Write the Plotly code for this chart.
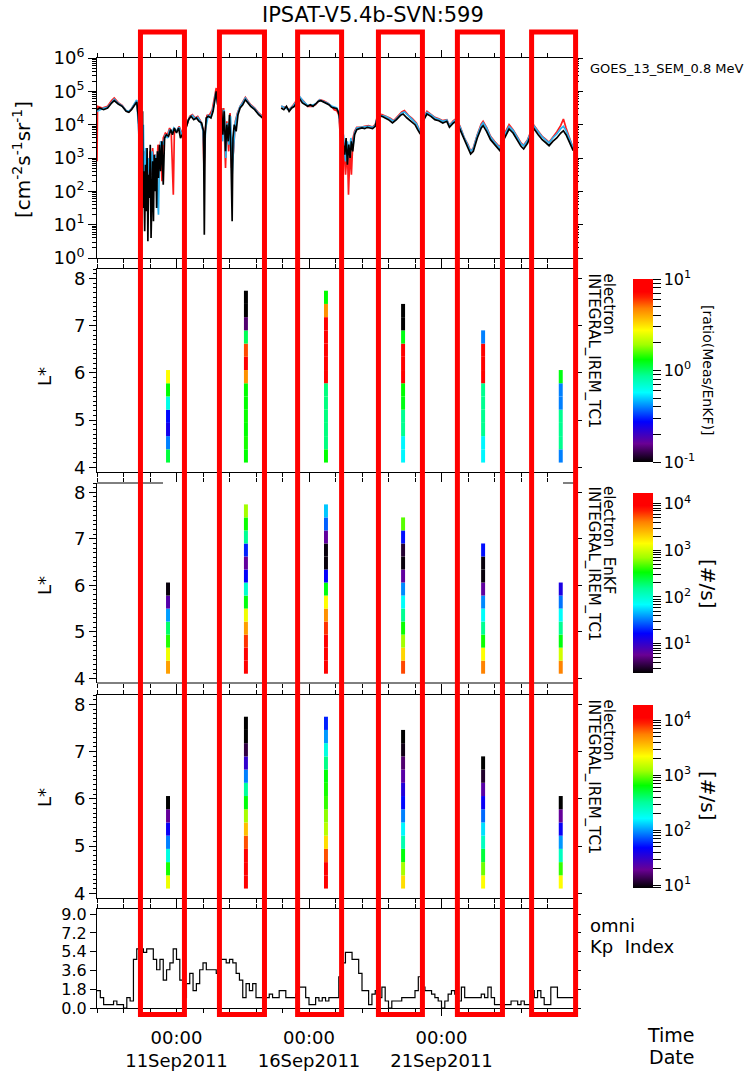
import numpy as np
import pandas as pd
import plotly.graph_objects as go

# ---------------- DATA ----------------
T0 = pd.Timestamp("2011-09-08 00:00")
SPAN_DAYS = 18

# GOES 0.8 MeV flux (days since 2011-09-08, log10 flux); None = data gap
black_days = [0.00,0.10,0.25,0.40,0.55,0.65,0.80,0.95,1.10,1.20,1.30,1.42,1.50,1.55,1.60,1.65,1.68,1.70,1.72,1.74,
              1.77,1.80,1.83,1.86,1.89,1.92,1.95,1.98,2.01,2.04,2.07,2.10,2.13,2.16,2.19,2.22,2.25,2.28,2.32,2.36,
              2.40,2.45,2.50,2.55,2.62,2.70,2.78,2.85,2.92,3.00,3.08,3.15,3.22,3.30,3.38,3.45,3.55,3.65,3.75,3.85,
              3.95,4.02,4.05,4.08,4.12,4.20,4.30,4.38,4.45,4.50,4.55,4.60,4.65,4.70,4.75,4.80,4.85,4.90,4.95,5.00,
              5.05,5.10,5.13,5.18,5.25,5.32,5.40,5.50,5.60,5.70,5.80,5.95,6.10,6.25,6.33,6.60,
              6.95,7.05,7.15,7.25,7.35,7.45,7.55,7.65,7.75,7.85,7.95,8.05,8.15,8.25,8.35,8.45,8.55,8.65,8.75,8.85,
              8.95,9.05,9.12,9.20,9.25,9.30,9.35,9.40,9.45,9.50,9.55,9.60,9.65,9.72,9.80,9.90,10.00,10.10,10.20,10.30,
              10.40,10.50,10.60,10.75,10.90,11.00,11.15,11.30,11.45,11.55,11.70,11.85,12.00,12.10,12.20,12.30,12.45,12.60,12.75,12.90,
              13.05,13.20,13.30,13.45,13.55,13.70,13.85,14.00,14.10,14.20,14.35,14.50,14.57,14.70,14.85,15.00,15.20,15.35,15.55,15.70,
              15.85,16.00,16.10,16.25,16.40,16.50,16.65,16.80,16.95,17.06,17.20,17.35,17.50,17.60,17.70,17.85,17.97]
black_log = [4.45,4.50,4.45,4.50,4.65,4.72,4.62,4.55,4.40,4.37,4.45,4.60,4.68,4.30,3.80,2.90,1.20,2.70,4.40,1.50,
             2.60,0.80,2.80,1.40,3.30,0.50,2.50,1.80,3.40,0.60,2.20,2.90,1.10,3.10,2.00,3.00,1.50,3.20,2.40,3.40,
             2.60,3.50,2.20,3.60,3.70,3.65,3.85,3.70,3.90,3.75,3.90,3.60,3.70,3.85,3.95,4.15,4.25,4.15,4.20,4.10,
             4.05,3.80,0.70,3.70,4.20,4.25,4.20,4.40,4.85,5.00,4.60,4.85,4.30,4.50,3.70,4.40,3.20,4.00,3.50,4.30,
             3.30,1.10,3.60,4.00,3.80,4.30,4.50,4.60,4.75,4.65,4.55,4.45,4.30,4.20,4.15,None,
             4.50,4.45,4.55,4.40,4.50,4.55,4.70,4.77,4.65,4.60,4.55,4.60,4.55,4.62,4.70,4.72,4.68,4.62,4.60,4.52,
             4.50,4.48,4.35,4.00,3.80,3.40,3.10,3.60,2.80,3.40,3.00,3.50,3.20,3.70,3.85,3.88,3.90,3.88,3.92,3.90,
             3.88,3.95,4.27,4.25,4.20,4.15,4.05,4.15,4.28,4.32,4.20,4.10,4.00,3.85,3.72,4.10,4.32,4.25,4.15,4.12,
             4.05,4.10,3.92,4.05,4.10,3.85,3.55,3.30,3.12,3.20,3.60,3.90,3.97,3.80,3.55,3.40,3.22,3.55,3.87,3.75,
             3.55,3.35,3.27,3.45,3.75,3.87,3.70,3.55,3.45,3.37,3.50,3.60,3.75,3.82,3.70,3.45,3.22]

red_days = [0.00,0.02,0.20,0.40,0.55,0.65,0.80,0.95,1.10,1.20,1.30,1.42,1.50,1.56,1.62,1.66,1.70,1.75,1.80,1.85,
            1.90,1.95,2.00,2.05,2.10,2.15,2.20,2.25,2.30,2.35,2.40,2.45,2.50,2.58,2.66,2.74,2.80,2.85,2.88,2.92,
            3.00,3.10,3.20,3.30,3.40,3.50,3.60,3.70,3.80,3.90,4.00,4.04,4.08,4.15,4.25,4.35,4.45,4.50,4.55,4.60,
            4.66,4.72,4.78,4.85,4.90,4.97,5.02,5.08,5.15,5.22,5.30,5.40,5.50,5.60,5.70,5.80,5.95,6.10,6.25,6.33,6.60,
            6.95,7.10,7.25,7.40,7.55,7.65,7.80,7.95,8.10,8.25,8.40,8.55,8.70,8.85,8.95,9.05,9.12,9.20,9.25,9.30,
            9.38,9.45,9.49,9.55,9.60,9.66,9.72,9.80,9.95,10.10,10.25,10.40,10.50,10.60,10.75,10.90,11.05,11.20,11.35,11.50,
            11.60,11.75,11.90,12.05,12.20,12.30,12.45,12.60,12.75,12.90,13.05,13.20,13.30,13.45,13.55,13.70,13.85,14.00,14.10,14.20,
            14.35,14.50,14.57,14.70,14.85,15.00,15.20,15.35,15.55,15.70,15.85,16.00,16.10,16.25,16.40,16.50,16.65,16.80,16.95,17.06,
            17.20,17.35,17.50,17.60,17.70,17.85,17.97]
red_log = [2.90,4.55,4.50,4.55,4.72,4.80,4.66,4.58,4.42,4.38,4.48,4.62,4.72,4.20,3.20,2.10,3.10,1.80,3.20,2.20,
           3.00,1.90,3.20,2.50,3.30,2.70,3.10,2.40,3.40,2.80,3.50,2.30,3.60,3.75,3.70,3.90,3.80,2.60,1.90,3.80,
           3.80,3.95,3.75,3.90,4.00,4.25,4.30,4.20,4.25,4.12,3.85,2.60,3.80,4.28,4.30,4.45,4.95,5.10,4.75,4.95,
           4.40,3.90,4.50,2.70,4.10,3.20,4.35,2.70,3.20,4.10,4.35,4.55,4.68,4.82,4.70,4.60,4.50,4.35,4.25,4.20,None,
           4.55,4.52,4.45,4.58,4.75,4.82,4.70,4.55,4.55,4.60,4.75,4.72,4.65,4.55,4.45,4.42,4.30,3.60,3.00,3.50,
           2.50,3.30,1.90,3.30,2.50,3.60,3.80,3.92,3.92,3.95,3.97,3.93,4.00,4.32,4.30,4.25,4.20,4.12,4.25,4.38,
           4.42,4.28,4.18,4.05,3.78,4.18,4.40,4.32,4.22,4.18,4.12,4.15,3.98,4.12,4.18,3.95,3.62,3.40,3.20,3.30,
           3.70,4.02,4.10,3.92,3.65,3.50,3.32,3.68,4.00,3.85,3.65,3.45,3.38,3.55,3.85,3.97,3.80,3.65,3.55,3.47,
           3.62,3.78,3.98,4.17,3.90,3.55,3.28]

blue_days = [0.00,0.20,0.40,0.55,0.65,0.80,0.95,1.10,1.20,1.30,1.42,1.50,1.56,1.62,1.68,1.72,1.75,1.78,1.84,1.90,
             1.96,2.02,2.08,2.14,2.20,2.26,2.32,2.36,2.42,2.50,2.58,2.66,2.74,2.82,2.90,3.00,3.10,3.20,3.30,3.40,
             3.50,3.60,3.70,3.80,3.90,4.00,4.05,4.10,4.20,4.30,4.40,4.48,4.55,4.62,4.68,4.74,4.80,4.86,4.92,4.98,
             5.04,5.10,5.16,5.22,5.30,5.40,5.50,5.60,5.70,5.80,5.95,6.10,6.25,6.33,6.60,
             6.95,7.10,7.25,7.40,7.55,7.65,7.80,7.95,8.10,8.25,8.40,8.55,8.70,8.85,8.95,9.05,9.12,9.20,9.25,9.30,
             9.38,9.45,9.52,9.58,9.65,9.72,9.80,9.95,10.10,10.25,10.40,10.50,10.60,10.75,10.90,11.05,11.20,11.35,11.50,11.60,
             11.75,11.90,12.05,12.20,12.30,12.45,12.60,12.75,12.90,13.05,13.20,13.30,13.45,13.55,13.70,13.85,14.00,14.10,14.20,14.35,
             14.50,14.57,14.70,14.85,15.00,15.20,15.35,15.55,15.70,15.85,16.00,16.10,16.25,16.40,16.50,16.65,16.80,16.95,17.06,17.20,
             17.35,17.50,17.60,17.70,17.85,17.97]
blue_log = [4.40,4.48,4.52,4.68,4.76,4.64,4.56,4.42,4.40,4.47,4.64,4.74,4.00,2.80,2.10,3.10,4.00,2.00,3.30,2.30,
            3.00,2.40,3.20,2.60,3.10,2.20,1.30,3.20,3.50,3.40,3.70,3.60,3.85,3.75,3.90,3.80,3.92,3.70,3.88,4.05,
            4.22,4.28,4.18,4.22,4.10,3.82,3.00,3.90,4.28,4.25,4.55,4.95,4.65,4.80,4.20,3.50,4.45,3.00,4.05,3.40,
            4.25,2.50,3.40,4.05,4.32,4.55,4.66,4.80,4.68,4.58,4.48,4.33,4.22,4.18,None,
            4.56,4.50,4.45,4.56,4.74,4.84,4.68,4.58,4.58,4.62,4.74,4.70,4.64,4.56,4.52,4.50,4.38,3.80,3.30,3.70,
            2.90,3.50,3.10,3.60,3.30,3.75,3.90,3.92,3.93,3.95,3.92,3.98,4.30,4.28,4.24,4.18,4.10,4.22,4.35,4.38,
            4.25,4.15,4.03,3.77,4.15,4.37,4.30,4.20,4.16,4.10,4.14,3.97,4.10,4.16,3.93,3.62,3.38,3.20,3.28,3.68,
            3.98,4.06,3.90,3.63,3.48,3.30,3.64,3.95,3.83,3.63,3.43,3.36,3.53,3.83,3.95,3.79,3.63,3.53,3.45,3.60,
            3.72,3.88,3.95,3.82,3.52,3.30]

# L* bins of the spectrogram columns
L_min = 4.10
dL = 0.28
col_days = [2.68, 5.62, 8.64, 11.55, 14.57, 17.50]

# log10 ratio(Meas/EnKF), bins bottom -> top
ratio_cols = [
    [0.05, -0.40, -0.60, -0.55, -0.20, 0.12, 0.44],
    [0.12, 0.14, 0.12, 0.13, 0.12, 0.12, 0.65, 0.90, 0.75, 0.02, -0.85, -1.00, -1.00],
    [0.12, -0.03, -0.03, -0.03, -0.03, -0.03, 0.90, 0.90, 0.90, 0.90, 0.90, 0.65, 0.12],
    [-0.25, -0.25, -0.05, -0.05, 0.10, 0.12, 0.90, 0.90, 0.90, 0.10, -1.00, -1.00],
    [-0.25, -0.25, -0.05, -0.05, -0.05, -0.05, 0.90, 0.90, 0.90, -0.40],
    [-0.40, -0.05, -0.05, -0.05, -0.40, -0.40, 0.10],
]
# log10 EnKF count rate [#/s]
enkf_cols = [
    [3.50, 3.10, 2.60, 2.30, 1.60, 0.85, 0.40],
    [4.10, 4.10, 3.80, 3.50, 3.10, 2.50, 2.00, 1.20, 0.80, 1.30, 2.20, 2.55, 2.85],
    [4.10, 4.10, 4.10, 3.80, 3.55, 3.15, 2.50, 1.20, 0.40, 0.40, 0.80, 1.45, 1.70],
    [3.75, 3.30, 2.85, 2.55, 2.20, 1.85, 1.55, 0.80, 0.40, 0.50, 1.25, 2.70],
    [3.60, 3.15, 2.55, 2.20, 1.85, 1.55, 0.80, 0.40, 0.40, 1.25],
    [3.60, 3.00, 2.50, 2.20, 1.85, 1.50, 1.10],
]
# log10 measured count rate [#/s]
meas_cols = [
    [3.30, 2.85, 2.30, 1.95, 1.65, 1.30, 0.95],
    [4.10, 4.10, 4.10, 3.85, 3.55, 3.10, 2.80, 2.50, 1.95, 1.50, 1.10, 0.95, 0.95],
    [4.10, 4.10, 3.85, 3.45, 3.15, 3.05, 2.90, 2.85, 2.80, 2.55, 2.30, 2.00, 1.75],
    [3.45, 3.10, 2.80, 2.45, 2.20, 1.95, 1.70, 1.55, 1.35, 1.20, 1.00, 0.95],
    [3.35, 3.00, 2.70, 2.40, 2.15, 1.90, 1.65, 1.35, 1.05, 0.95],
    [3.35, 2.90, 2.40, 2.00, 1.65, 1.30, 0.95],
]

# omni Kp, 3-hourly from 2011-09-08 00:00
kp = [1.67,1.0,0.33,0.33,0.33,0.67,0.33,0.33,
      0.0,1.0,0.67,4.67,5.67,5.67,5.33,5.67,
      5.67,4.67,3.67,4.67,2.67,3.67,4.33,5.67,
      4.67,2.67,1.0,2.33,3.33,1.67,2.33,3.67,
      4.33,3.67,3.67,3.67,3.33,4.67,4.67,4.33,
      4.67,4.33,3.33,2.67,1.0,2.33,1.67,2.33,
      1.0,1.0,1.0,1.0,1.33,1.0,1.0,1.67,
      1.67,1.0,1.0,1.0,1.33,2.0,2.0,1.0,
      0.33,0.33,1.0,0.67,1.0,0.67,1.0,1.0,
      1.0,3.0,4.33,5.33,5.33,4.67,4.67,3.33,
      1.67,1.67,0.33,1.33,1.67,1.0,2.0,0.67,
      0.0,0.67,0.67,0.67,1.0,1.0,1.0,1.0,
      1.67,3.0,2.0,1.67,1.67,1.33,1.0,0.67,
      0.0,0.67,1.33,1.67,1.33,0.67,2.0,1.0,
      1.0,1.0,1.0,1.0,1.33,1.0,2.0,1.0,
      0.33,0.33,0.0,0.33,0.33,0.67,0.67,0.33,
      0.67,0.33,0.33,1.67,1.0,1.67,1.0,0.33,
      0.33,2.0,2.0,1.0,1.0,1.0,1.0,1.0]

# highlighted intervals (days since 2011-09-08)
box_start = [1.64, 4.62, 7.57, 10.62, 13.60, 16.40]
box_end = [3.30, 6.32, 9.23, 12.28, 15.30, 18.06]

# ---------------- HELPERS ----------------
def to_dates(days):
    return [T0 + pd.Timedelta(days=d) for d in days]

def to_flux(logs):
    return [None if v is None else 10 ** v for v in logs]

W, H = 752, 1071
PL, PR, PT, PB = 97, 574, 58, 1008
def px(x):
    return (x - PL) / (PR - PL)
def py(y):
    return (PB - y) / (PB - PT)

FONT = "DejaVu Sans"
CS = [[0.0, "#000000"], [0.10, "#6a0094"], [0.22, "#0000ff"], [0.30, "#0080ff"],
      [0.38, "#00ffff"], [0.47, "#00ff99"], [0.56, "#00ff00"], [0.64, "#a0ff00"],
      [0.72, "#ffff00"], [0.84, "#ff8000"], [0.90, "#ff2000"], [0.93, "#ff0000"], [1.0, "#ff0000"]]

dom = {
    1: [py(258), py(58)],
    2: [py(472), py(269)],
    3: [py(683), py(483)],
    4: [py(898), py(695)],
    5: [py(1008), py(909)],
}

fig = go.Figure()

# top panel lines
fig.add_trace(go.Scatter(x=to_dates(red_days), y=to_flux(red_log), mode="lines",
                         line=dict(color="#ff1a1a", width=1.7), xaxis="x", yaxis="y"))
fig.add_trace(go.Scatter(x=to_dates(blue_days), y=to_flux(blue_log), mode="lines",
                         line=dict(color="#2cb2f0", width=1.7), xaxis="x", yaxis="y"))
fig.add_trace(go.Scatter(x=to_dates(black_days), y=to_flux(black_log), mode="lines",
                         line=dict(color="black", width=1.7), xaxis="x", yaxis="y"))

# spectrogram columns
def add_cols(cols, ax, caxis):
    xs, bases, hs, cs = [], [], [], []
    for d, vals in zip(col_days, cols):
        for k, v in enumerate(vals):
            xs.append(T0 + pd.Timedelta(days=d))
            bases.append(L_min + k * dL)
            hs.append(dL)
            cs.append(v)
    fig.add_trace(go.Bar(x=xs, y=hs, base=bases, width=0.15 * 86400000,
                         marker=dict(color=cs, coloraxis=caxis, line=dict(width=0)),
                         xaxis="x" + ax, yaxis="y" + ax))

add_cols(ratio_cols, "2", "coloraxis")
add_cols(enkf_cols, "3", "coloraxis2")
add_cols(meas_cols, "4", "coloraxis3")

# Kp
kp_days = [k / 8 for k in range(len(kp) + 1)]
fig.add_trace(go.Scatter(x=to_dates(kp_days), y=kp + [kp[-1]], mode="lines", line_shape="hv",
                         line=dict(color="black", width=1.2), xaxis="x5", yaxis="y5"))

# ---------------- AXES ----------------
xr = [T0, T0 + pd.Timedelta(days=SPAN_DAYS)]
major = [pd.Timestamp("2011-09-11"), pd.Timestamp("2011-09-16"), pd.Timestamp("2011-09-21")]
major_txt = ["00:00<br>" + d.strftime("%d%b%Y") for d in major]

def xax(anchor, labels=False, mirror="ticks", showline=True):
    return dict(type="date", range=xr, anchor=anchor, matches=None if anchor == "y" else "x",
                automargin=False,
                showline=showline, linecolor="black", linewidth=1, mirror=mirror,
                ticks="outside", ticklen=7, tickcolor="black", tickwidth=1,
                tickmode="array", tickvals=major, ticktext=major_txt, ticklabelstandoff=6,
                showticklabels=labels, showgrid=False, zeroline=False,
                tickfont=dict(family=FONT, size=18, color="black"),
                minor=dict(tickmode="linear", tick0=T0, dtick=86400000, ticks="outside",
                           ticklen=4, tickcolor="black", showgrid=False))

def lin_minor(lo, hi, step):
    return list(np.round(np.arange(lo, hi + 1e-9, step), 3))

log_minor = [k * 10.0 ** n for n in range(0, 6) for k in range(2, 10)]

def lstar(dom_):
    return dict(domain=dom_, range=[3.9, 8.2], automargin=False,
                showline=True, linecolor="black", linewidth=1,
                mirror="ticks", ticks="outside", ticklen=7, tickcolor="black",
                tickvals=[4, 5, 6, 7, 8], showgrid=False, zeroline=False,
                tickfont=dict(family=FONT, size=18, color="black"),
                minor=dict(tickmode="array", tickvals=lin_minor(4.0, 8.2, 0.1),
                           ticks="outside", ticklen=3, tickcolor="black", showgrid=False))

def cbar(dom_, vals, texts):
    return dict(x=px(623), xanchor="left", thickness=20, thicknessmode="pixels",
                len=dom_[1] - dom_[0], lenmode="fraction", y=(dom_[0] + dom_[1]) / 2,
                yanchor="middle", outlinewidth=0, ticks="outside", ticklen=8,
                tickcolor="black", tickvals=vals, ticktext=texts,
                tickfont=dict(family=FONT, size=16, color="black"))

def cb_ticks(lo, hi):
    vals, txt = [], []
    for n in range(int(np.floor(lo)), int(np.ceil(hi)) + 1):
        for k in range(1, 10):
            v = n + np.log10(k)
            if lo - 1e-6 <= v <= hi + 1e-6:
                vals.append(v)
                txt.append("10<sup>%d</sup>" % n if k == 1 else "")
    return vals, txt

v2, t2 = cb_ticks(-1, 1)
v3, t3 = cb_ticks(0.37, 4.23)
v4, t4 = cb_ticks(0.95, 4.28)

layout = dict(
    width=W, height=H, margin=dict(l=PL, r=W - PR, t=PT, b=H - PB, autoexpand=False),
    paper_bgcolor="white", plot_bgcolor="white", showlegend=False, barmode="overlay",
    font=dict(family=FONT, size=18, color="black"),
    xaxis=xax("y"), xaxis2=xax("y2"), xaxis3=xax("y3", showline=False), xaxis4=xax("y4"),
    xaxis5=xax("y5", labels=True),
    yaxis=dict(domain=dom[1], type="log", range=[0, 6], automargin=False,
               showline=True, linecolor="black",
               mirror="ticks", ticks="outside", ticklen=8, tickcolor="black",
               tickvals=[10 ** n for n in range(7)],
               ticktext=["10<sup>%d</sup>" % n for n in range(7)],
               showgrid=False, zeroline=False,
               tickfont=dict(family=FONT, size=18, color="black"),
               minor=dict(tickmode="array", tickvals=log_minor, ticks="outside", ticklen=4,
                          tickcolor="black", showgrid=False)),
    yaxis2=lstar(dom[2]), yaxis3=lstar(dom[3]), yaxis4=lstar(dom[4]),
    yaxis5=dict(domain=dom[5], range=[0, 9.5], automargin=False,
                showline=True, linecolor="black", mirror="ticks",
                ticks="outside", ticklen=6, tickcolor="black",
                tickvals=[0, 1.8, 3.6, 5.4, 7.2, 9.0],
                ticktext=["0.0", "1.8", "3.6", "5.4", "7.2", "9.0"],
                showgrid=False, zeroline=False,
                tickfont=dict(family=FONT, size=16, color="black")),
    coloraxis=dict(cmin=-1, cmax=1, colorscale=CS, colorbar=cbar(dom[2], v2, t2)),
    coloraxis2=dict(cmin=0.37, cmax=4.23, colorscale=CS, colorbar=cbar(dom[3], v3, t3)),
    coloraxis3=dict(cmin=0.95, cmax=4.28, colorscale=CS, colorbar=cbar(dom[4], v4, t4)),
)
fig.update_layout(**layout)

# ---------------- SHAPES ----------------
shapes = []
# panel 3 borders (bottom full, top only partially drawn)
shapes.append(dict(type="line", xref="paper", yref="paper", x0=0, x1=1, y0=dom[3][0], y1=dom[3][0],
                   line=dict(color="black", width=1)))
shapes.append(dict(type="line", xref="paper", yref="paper", x0=0, x1=px(163), y0=dom[3][1], y1=dom[3][1],
                   line=dict(color="black", width=1)))
shapes.append(dict(type="line", xref="paper", yref="paper", x0=px(563), x1=1, y0=dom[3][1], y1=dom[3][1],
                   line=dict(color="black", width=1)))
# highlight boxes (time axis spans SPAN_DAYS over the paper width)
for s, e in zip(box_start, box_end):
    shapes.append(dict(type="rect", xref="paper", yref="paper",
                       x0=s / SPAN_DAYS, x1=e / SPAN_DAYS,
                       y0=py(1014.5), y1=py(32), line=dict(color="#ff0000", width=5),
                       fillcolor="rgba(0,0,0,0)", layer="above"))
fig.update_layout(shapes=shapes)

# ---------------- TEXT ----------------
ann = []
def A(text, x, y, size=18, angle=0, xa="center", ya="middle", align="left"):
    ann.append(dict(text=text, x=px(x), y=py(y), xref="paper", yref="paper", showarrow=False,
                    textangle=angle, xanchor=xa, yanchor=ya, align=align,
                    font=dict(family=FONT, size=size, color="black")))

A("IPSAT-V5.4b-SVN:599", 373, 15, size=21)
A("GOES_13_SEM_0.8 MeV", 588, 69, size=13, xa="left")
A("[cm<sup>-2</sup>s<sup>-1</sup>sr<sup>-1</sup>]", 22, 160, size=20, angle=-90)
for yc in (377, 586, 798):
    A("L*", 44, yc, size=18, angle=-90)
A("electron", 609, 271, size=15, angle=90, ya="top")
A("INTEGRAL_IREM_TC1", 593, 271, size=15, angle=90, ya="top")
A("electron  EnKF", 609, 484, size=15, angle=90, ya="top")
A("INTEGRAL_IREM_TC1", 593, 484, size=15, angle=90, ya="top")
A("electron", 609, 697, size=15, angle=90, ya="top")
A("INTEGRAL_IREM_TC1", 593, 697, size=15, angle=90, ya="top")
A("[ratio(Meas/EnKF)]", 708, 370, size=14, angle=90)
A("[#/s]", 708, 584, size=20, angle=90)
A("[#/s]", 708, 796, size=20, angle=90)
A("omni", 588, 925, size=18, xa="left")
A("Kp  Index", 588, 946, size=18, xa="left")
A("Time", 671, 1035, size=19)
A("Date", 671, 1057, size=19)
fig.update_layout(annotations=ann)

fig.write_html("out.html")
